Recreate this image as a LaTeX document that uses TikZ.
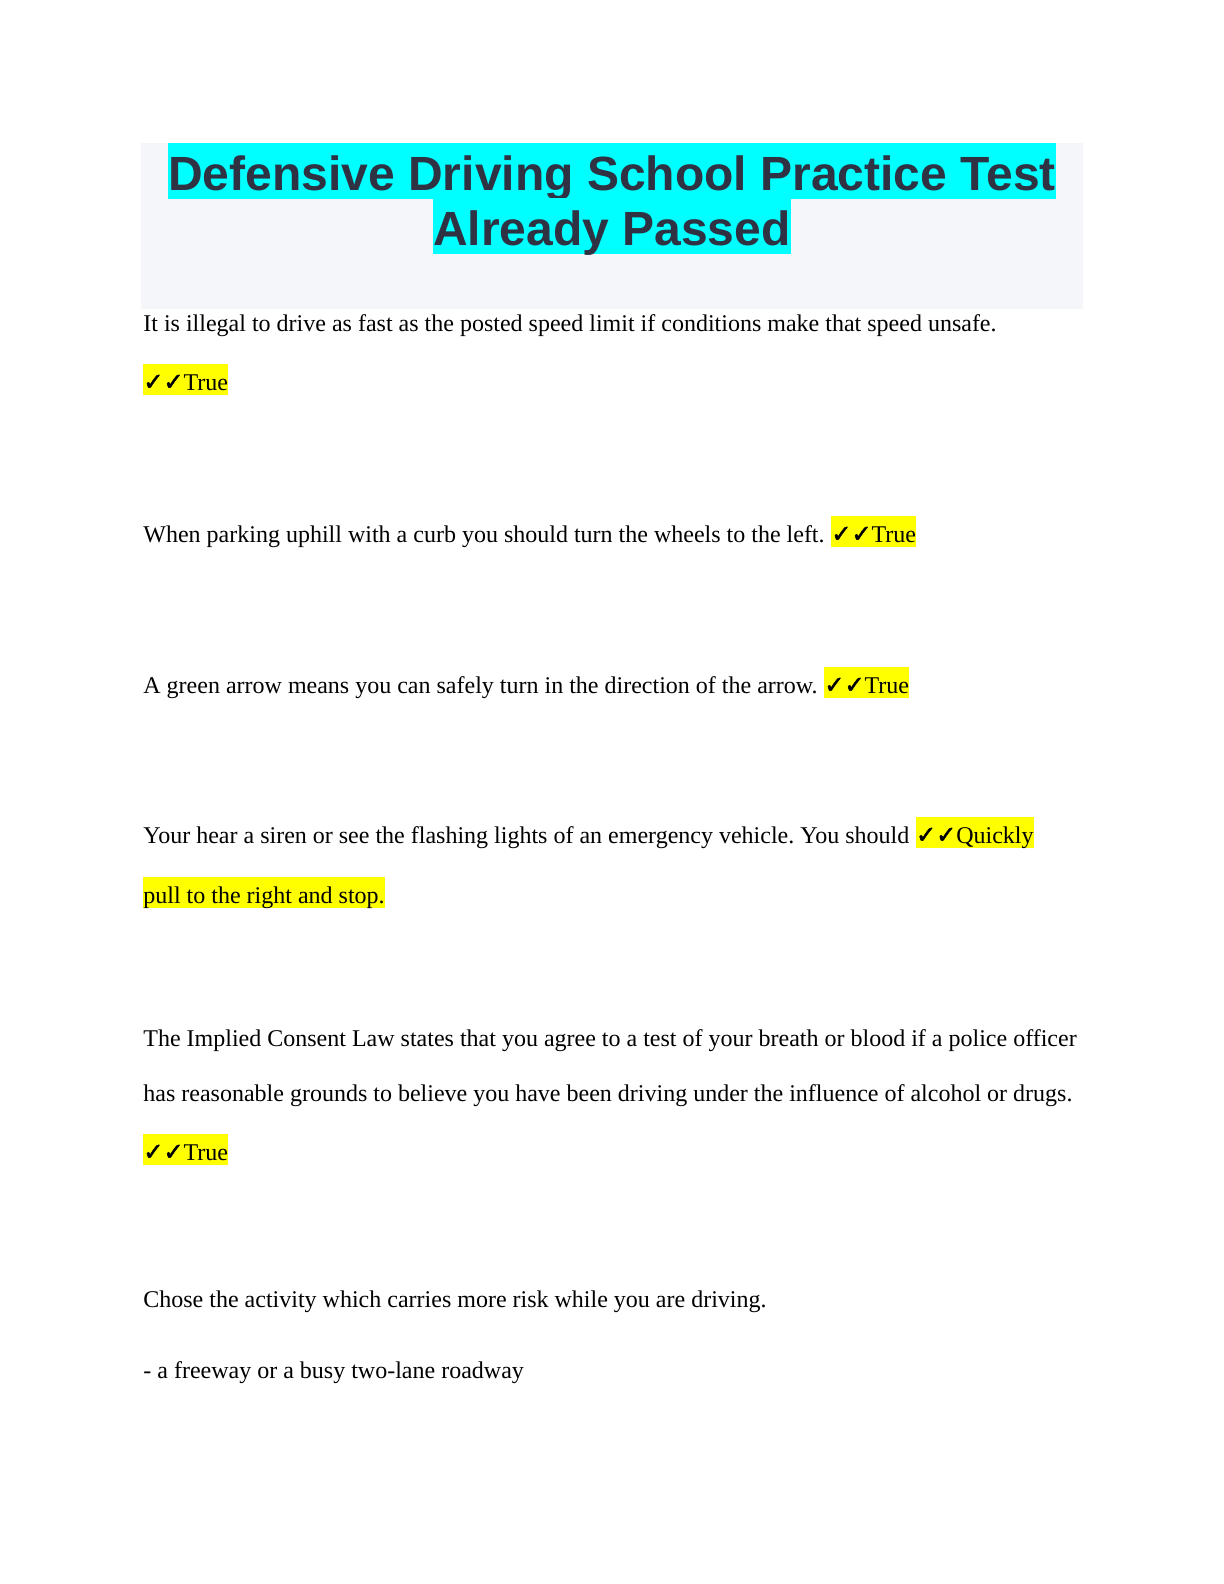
\documentclass[tikz,border=0pt]{standalone}
\usepackage{fontspec}
\setmainfont{Liberation Serif}
\newfontfamily\titlefont{Liberation Sans}
\newfontfamily\tickfont[FakeBold=2]{DejaVu Sans}
\usetikzlibrary{positioning}
\frenchspacing
\definecolor{titlegray}{RGB}{245,246,250}
\definecolor{titleink}{RGB}{46,50,66}
\definecolor{marker}{RGB}{255,255,0}
\definecolor{titlemark}{RGB}{0,255,255}
\newcommand{\ticks}{{\tickfont ✓✓}}
\tikzset{
  body/.style={anchor=base west, inner sep=0pt, font=\fontsize{12}{14}\selectfont},
  answer/.style={body, fill=marker, text height=13pt, text depth=2.5pt},
  heading/.style={anchor=base, inner sep=0pt, fill=titlemark, text=titleink,
    font=\titlefont\bfseries\fontsize{24}{28}\selectfont, text height=23.5pt, text depth=4.5pt}
}
\begin{document}
\begin{tikzpicture}[x=0.5pt,y=-0.5pt]
    \useasboundingbox (0,0) rectangle (1224,1584);
        \fill[titlegray] (141,143) rectangle (1083,309);
        \node[heading] (title1) at (612,190) {Defensive Driving School Practice Test};
        \node[heading] (title2) at (612,245) {Already Passed};
    \node[body] (q1) at (143,331) {It is illegal to drive as fast as the posted speed limit if conditions make that speed unsafe.};
    \node[answer] (a1) at (143,390) {\ticks True};
    \node[body] (q2) at (143,542) {When parking uphill with a curb you should turn the wheels to the left.};
    \node[answer, right=3pt of q2.base east, anchor=base west] (a2) {\ticks True};
    \node[body] (q3) at (143,693) {A green arrow means you can safely turn in the direction of the arrow.};
    \node[answer, right=3pt of q3.base east, anchor=base west] (a3) {\ticks True};
    \node[body] (q4) at (143,843) {Your hear a siren or see the flashing lights of an emergency vehicle. You should};
    \node[answer, right=3pt of q4.base east, anchor=base west] (a4) {\ticks Quickly};
    \node[answer] (a4b) at (143,903) {pull to the right and stop.};
    \node[body] (q5) at (143,1046) {The Implied Consent Law states that you agree to a test of your breath or blood if a police officer};
    \node[body] (q5b) at (143,1101) {has reasonable grounds to believe you have been driving under the influence of alcohol or drugs.};
    \node[answer] (a5) at (143,1160) {\ticks True};
    \node[body] (q6) at (143,1307) {Chose the activity which carries more risk while you are driving.};
    \node[body] (o6) at (143,1378) {- a freeway or a busy two-lane roadway};
\end{tikzpicture}
\end{document}
